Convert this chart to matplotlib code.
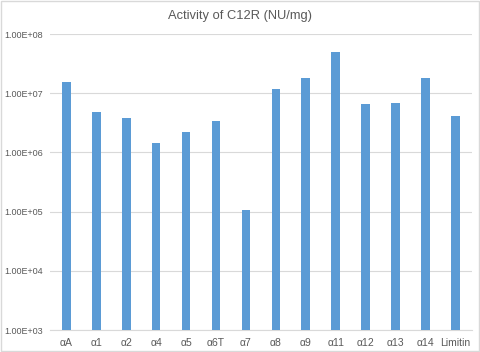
import matplotlib
matplotlib.use("Agg")
import matplotlib.pyplot as plt
from matplotlib.ticker import FixedLocator
import numpy as np

categories = ["αA", "α1", "α2", "α4", "α5", "α6T", "α7", "α8", "α9", "α11", "α12", "α13", "α14", "Limitin"]
values = [1.55e7, 4.9e6, 3.8e6, 1.42e6, 2.25e6, 3.4e6, 1.07e5, 1.2e7, 1.8e7, 4.9e7, 6.5e6, 6.9e6, 1.85e7, 4.2e6]
ytick_values = [1e3, 1e4, 1e5, 1e6, 1e7, 1e8]
ytick_labels = ["1.00E+03", "1.00E+04", "1.00E+05", "1.00E+06", "1.00E+07", "1.00E+08"]
title = "Activity of C12R (NU/mg)"

plt.rcParams['font.family'] = ['Liberation Sans', 'DejaVu Sans']

fig = plt.figure(figsize=(4.8, 3.52), dpi=100)
ax = fig.add_axes([0.104, 0.0625, 0.879, 0.8405])
x = np.arange(len(categories))
ax.bar(x, values, width=0.29, color="#5B9BD5", zorder=3, bottom=1e3)
ax.set_yscale("log")
ax.set_ylim(1e3, 1e8)
ax.set_xlim(-0.55, len(categories) - 0.45)
ax.yaxis.set_major_locator(FixedLocator(ytick_values))
ax.yaxis.set_minor_locator(FixedLocator([]))
ax.set_yticklabels(ytick_labels)
ax.set_xticks(x)
ax.set_xticklabels(categories)
ax.grid(axis="y", color="#D9D9D9", linewidth=0.8, zorder=0)
for s in ["top", "right", "left"]:
    ax.spines[s].set_visible(False)
ax.spines["bottom"].set_color("#D9D9D9")
ax.tick_params(axis="y", length=0, labelsize=6.5, labelcolor="#595959", pad=5)
ax.tick_params(axis="x", length=0, labelsize=7.5, labelcolor="#595959", pad=6)
fig.text(0.5, 0.955, title, ha="center", va="center", fontsize=9.3, color="#595959")
border = plt.Rectangle((0.003, 0.004), 0.994, 0.992, transform=fig.transFigure,
                       fill=False, edgecolor="#D9D9D9", linewidth=1)
fig.patches.append(border)
fig.savefig("out.png", dpi=100)
